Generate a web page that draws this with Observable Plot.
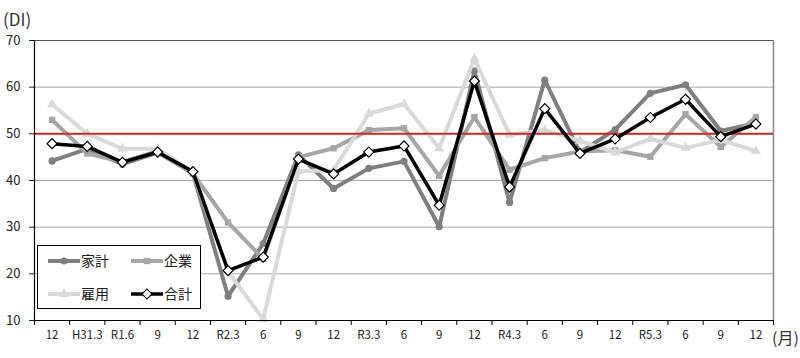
<!DOCTYPE html>
<html>
<head>
<meta charset="utf-8">
<script src="https://cdn.jsdelivr.net/npm/d3@7"></script>
<script src="https://cdn.jsdelivr.net/npm/@observablehq/plot@0.6"></script>
<style>
  html, body { margin: 0; padding: 0; background: #fff; }
  #wrap { position: relative; width: 800px; height: 358px; font-family: "Noto Sans CJK JP", "Noto Sans", sans-serif; color: #222; }
  #wrap svg text { fill: #222; }
  g[aria-label^="y-axis"] text { font-size: 13px; }
  g[aria-label^="x-axis"] text { font-size: 11.5px; }
  .lbl { position: absolute; white-space: nowrap; color: #333; }
  #legend { position: absolute; left: 37px; top: 245px; }
</style>
</head>
<body>
<div id="wrap"></div>
<script>
// ---- data ----
const labels = ["12","H31.3","R1.6","9","12","R2.3","6","9","12","R3.3","6","9","12","R4.3","6","9","12","R5.3","6","9","12"];
const household  = [44.2,46.8,43.5,46.0,41.6,15.2,26.5,45.5,38.3,42.6,44.1,30.1,63.5,35.3,61.5,46.0,50.9,58.7,60.5,50.6,52.3];
const corporate  = [53.0,45.8,44.0,46.3,41.5,31.0,23.2,45.0,46.9,50.8,51.2,41.0,53.6,42.3,44.8,46.2,46.5,45.1,54.2,47.2,53.6];
const employment = [56.3,50.0,46.8,46.8,41.8,20.5,10.3,42.0,42.2,54.3,56.4,46.9,66.1,49.8,50.8,48.5,46.0,48.9,47.0,48.7,46.3];
const total      = [47.9,47.3,43.9,46.1,41.9,20.7,23.6,44.6,41.4,46.1,47.4,34.7,61.3,38.6,55.4,45.8,48.9,53.5,57.4,49.4,52.1];
const seriesNames = ["家計","企業","雇用","合計"];
const yTicks = [10,20,30,40,50,60,70];
const refValue = 50;

// ---- styles ----
const styles = {
  "家計": {stroke: "#7f7f7f", fill: "#7f7f7f", symbol: d3.symbolCircle, rotate: 0, width: 4, r: 3.6},
  "企業": {stroke: "#a6a6a6", fill: "#a6a6a6", symbol: d3.symbolSquare, rotate: 0, width: 4, r: 3.6},
  "雇用": {stroke: "#d9d9d9", fill: "#d9d9d9", symbol: d3.symbolTriangle, rotate: 0, width: 4, r: 3.8},
  "合計": {stroke: "#000000", fill: "#ffffff", symbol: d3.symbolSquare, rotate: 45, width: 3.5, r: 4.0}
};
const valuesBy = {"家計": household, "企業": corporate, "雇用": employment, "合計": total};
const table = (name) => valuesBy[name].map((v, i) => ({i, v, name}));

const seriesMarks = (name) => {
  const s = styles[name];
  const data = table(name);
  return [
    Plot.line(data, {x: "i", y: "v", stroke: s.stroke, strokeWidth: s.width, strokeLinejoin: "round"}),
    Plot.dot(data, {x: "i", y: "v", symbol: () => s.symbol, r: s.r, rotate: s.rotate,
      fill: s.fill, stroke: name === "合計" ? "#000" : "none", strokeWidth: 1.2})
  ];
};

const boundaries = d3.range(labels.length + 1).map(k => k - 0.5);

const chart = Plot.plot({
  width: 800, height: 358,
  marginLeft: 34, marginRight: 27, marginTop: 40, marginBottom: 38,
  style: {fontFamily: "'Noto Sans CJK JP', 'Noto Sans', sans-serif", background: "transparent", overflow: "visible"},
  x: {domain: [-0.5, labels.length - 0.5], ticks: d3.range(labels.length), tickFormat: i => labels[i], tickSize: 0, tickPadding: 10, label: null},
  y: {domain: [10, 70], ticks: yTicks, tickSize: 5, tickPadding: 9, label: null},
  marks: [
    Plot.ruleY(yTicks.filter(t => t > 10 && t < 70), {stroke: "#a6a6a6", strokeWidth: 1}),
    Plot.ruleY([70], {stroke: "#555", strokeWidth: 1.2}),
    Plot.ruleX([labels.length - 0.5], {stroke: "#888", strokeWidth: 1.5}),
    ...seriesMarks("家計"),
    ...seriesMarks("企業"),
    ...seriesMarks("雇用"),
    Plot.ruleY([refValue], {stroke: "#cc2a2a", strokeWidth: 2}),
    ...seriesMarks("合計"),
    Plot.ruleX([-0.5], {stroke: "#000", strokeWidth: 1.2}),
    Plot.ruleY([10], {stroke: "#000", strokeWidth: 1.2}),
    Plot.ruleX(boundaries, {x: d => d, y1: 10, y2: 10 - 5 / (280 / 60), stroke: "#000", strokeWidth: 1})
  ]
});

const wrap = document.getElementById("wrap");
wrap.appendChild(chart);

// axis unit labels
const di = document.createElement("div");
di.className = "lbl"; di.textContent = "(DI)";
di.style.cssText = "left:3px;top:6px;font-size:17px;";
wrap.appendChild(di);
const mo = document.createElement("div");
mo.className = "lbl"; mo.textContent = "(月)";
mo.style.cssText = "left:772px;top:325px;font-size:16px;";
wrap.appendChild(mo);

// legend
const lg = d3.select(wrap).append("svg").attr("id", "legend").attr("width", 165).attr("height", 65)
  .style("font-family", "'Noto Sans CJK JP', sans-serif");
lg.append("rect").attr("x", 0.5).attr("y", 0.5).attr("width", 163).attr("height", 63).attr("fill", "#fff").attr("stroke", "#000");
const pos = {"家計": [11, 16], "企業": [94, 16], "雇用": [11, 49], "合計": [94, 49]};
seriesNames.forEach(name => {
  const s = styles[name];
  const [x0, y0] = pos[name];
  lg.append("line").attr("x1", x0).attr("x2", x0 + 32).attr("y1", y0).attr("y2", y0)
    .attr("stroke", s.stroke).attr("stroke-width", s.width);
  lg.append("path").attr("d", d3.symbol(s.symbol, Math.PI * s.r * s.r)())
    .attr("transform", `translate(${x0 + 16},${y0}) rotate(${s.rotate})`)
    .attr("fill", s.fill).attr("stroke", name === "合計" ? "#000" : "none").attr("stroke-width", 1.2);
  lg.append("text").attr("x", x0 + 33).attr("y", y0).attr("dy", "0.35em")
    .attr("font-size", 14).attr("fill", "#222").text(name);
});
</script>
</body>
</html>
